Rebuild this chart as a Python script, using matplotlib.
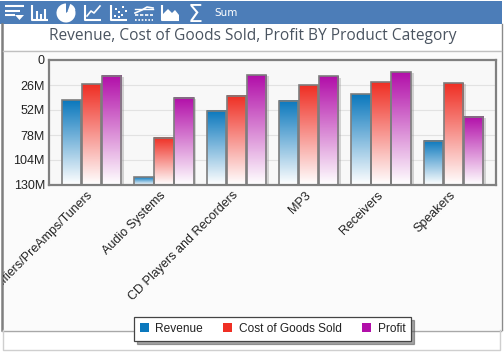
import numpy as np
import matplotlib
matplotlib.use('Agg')
import matplotlib.pyplot as plt
from matplotlib.colors import LinearSegmentedColormap
from matplotlib.patches import Rectangle, Wedge, Polygon, Patch
from matplotlib.patheffects import withSimplePatchShadow
from matplotlib.ticker import FuncFormatter
from matplotlib.transforms import Affine2D

plt.rcParams['font.family'] = ['Liberation Sans', 'DejaVu Sans']

# values
categories = ['Amplifiers/PreAmps/Tuners', 'Audio Systems', 'CD Players and Recorders',
              'MP3', 'Receivers', 'Speakers']
revenue = [41.6, 121.7, 53, 42.6, 35.4, 84]
cost = [25, 81, 37.4, 26, 23, 24]
profit = [16.6, 39.5, 15.6, 17, 12.5, 59]
yticks = [0, 26, 52, 78, 104, 130]

W, H = 504, 352
fig = plt.figure(figsize=(W / 100, H / 100), dpi=100, facecolor='white')

# overlay in pixel coordinates for the widget frame and toolbar
bg = fig.add_axes([0, 0, 1, 1], zorder=0)
bg.set_xlim(0, W)
bg.set_ylim(H, 0)
bg.axis('off')
bg.add_patch(Rectangle((2, 50), 499, 280, fc='#fbfbfb', ec='none'))
bg.add_patch(Rectangle((0, 1), 502, 23, fc='#4c7db8', ec='none'))
bg.plot([2, 2], [24, 330], color='#7f7f7f', lw=1.8)
bg.plot([501.5, 501.5], [24, 330], color='#8a8a8a', lw=1)
bg.plot([3, 501], [50.5, 50.5], color='#c0c0c0', lw=1)
bg.plot([2, 501], [330.5, 330.5], color='#a8a8a8', lw=1)
bg.plot([3, 3, 500, 500], [330, 349.5, 349.5, 330], color='#cfcfcf', lw=1)
bg.text(252.5, 35.5, 'Revenue, Cost of Goods Sold, Profit BY Product Category', ha='center', va='center',
        fontsize=11.2, color='#4a5460', family='Open Sans')

# toolbar icons
ic = dict(color='white', lw=1.5, solid_capstyle='butt')
for y, x1 in [(6, 24), (10.5, 20), (15, 15)]:
    bg.plot([5, x1], [y, y], **ic)
bg.add_patch(Polygon([[15, 15], [24, 15], [19.5, 20]], fc='white', ec='none'))
bg.plot([32, 32, 48], [5, 20, 20], **ic)
for x, y in [(36.5, 11), (41, 14), (45, 9)]:
    bg.plot([x, x], [y, 20], **ic)
bg.add_patch(Wedge((66, 13), 9.5, -40, 270, fc='white', ec='none'))
bg.add_patch(Wedge((67.5, 11.5), 8, -70, -10, fc='white', ec='none'))
bg.plot([85, 85, 101], [5, 20, 20], **ic)
bg.plot([87, 91, 94, 100], [16, 11, 13, 6], color='white', lw=1.2)
bg.plot([111, 111, 127], [5, 20, 20], **ic)
for x, y in [(115, 16), (119, 12), (123, 7), (116, 9), (122, 15), (126, 11), (119, 17)]:
    bg.add_patch(Rectangle((x - 1.2, y - 1.2), 2.4, 2.4, fc='white', ec='none'))
bg.plot([135, 153], [20, 20], color='white', lw=1.2, ls=(0, (1, 1)))
bg.plot([135, 153], [15, 15], color='white', lw=1.2, ls=(0, (2, 1)))
bg.plot([135, 142, 147, 153], [13, 10, 7, 8], color='white', lw=1.2)
bg.plot([135, 153], [9, 9], color='white', lw=1)
bg.plot([162, 162, 179], [5, 20, 20], **ic)
bg.add_patch(Polygon([[163, 20], [163, 14], [168, 9], [172, 13], [175, 10], [179, 15], [179, 20]],
                     fc='white', ec='none'))
bg.text(195.5, 13, '\u03a3', color='white', fontsize=17, ha='center', va='center_baseline', family='DejaVu Sans')
bg.text(214, 12.5, 'Sum', color='white', fontsize=7.5, ha='left', va='center', family='DejaVu Sans')

# plot area
ax = fig.add_axes([49 / W, 1 - 185 / H, (496 - 49) / W, (185 - 60) / H], zorder=1)
ax.set_facecolor('#f8f8f8')
ax.set_xlim(-0.587, 5.587)
ax.set_ylim(130, 0)
ax.set_yticks(yticks)
ax.yaxis.set_major_formatter(FuncFormatter(lambda v, _: '0' if v == 0 else f'{int(v)}M'))
ax.yaxis.grid(True, color='#e2e2e2', lw=0.8)
ax.set_axisbelow(True)
for s in ax.spines.values():
    s.set_color('#808080')
    s.set_linewidth(1.6)
ax.tick_params(axis='y', length=0, labelsize=9, labelcolor='#222222', pad=3)
ax.tick_params(axis='x', length=0, labelsize=9, labelcolor='#222222', pad=3)
ax.set_xticks(range(len(categories)))
ax.set_xticklabels(categories, rotation=45, ha='right', rotation_mode='anchor')
for lab in ax.get_xticklabels():
    # nudge left, long first label runs into the widget's left edge
    lab.set_transform(lab.get_transform() + Affine2D().translate(-4, 0))
    lab.set_clip_on(True)
    lab.set_clip_path(Rectangle((3, 0), 498, H, transform=None))

series = [('Revenue', revenue, '#0b78bd'), ('Cost of Goods Sold', cost, '#ef2f24'), ('Profit', profit, '#b20fa9')]
width = 19.5 / 72.4
for i, (name, vals, col) in enumerate(series):
    xs = np.arange(len(vals)) + (i - 1) * 20 / 72.4
    heights = [v - 130 for v in vals]
    bars = ax.bar(xs, heights, width=width, bottom=130, fc='none', ec='#7d7d7d', lw=1.2, zorder=3)
    cmap = LinearSegmentedColormap.from_list(name, [col, 'white'])
    for b, v in zip(bars, vals):
        x0 = b.get_x()
        shadow = Rectangle((x0, v), width, 130 - v, fc='white', ec='none', zorder=2,
                           path_effects=[withSimplePatchShadow(offset=(2, -1), shadow_rgbFace='#999999', alpha=0.4)])
        ax.add_patch(shadow)
        im = ax.imshow(np.linspace(0, 1, 100).reshape(-1, 1), cmap=cmap, aspect='auto',
                       extent=(x0, x0 + width, 130, v), origin='upper', zorder=2.5)
ax.set_xlim(-0.587, 5.587)
ax.set_ylim(130, 0)

leg = fig.legend(handles=[Patch(fc=c, ec='none', label=n) for n, _, c in series], ncol=3,
                 loc='center', bbox_to_anchor=(272.7 / W, 1 - 329 / H), fontsize=8.6,
                 frameon=True, fancybox=False, shadow=True, framealpha=1, edgecolor='#444444',
                 handlelength=0.75, handleheight=0.75, handletextpad=0.55, columnspacing=1.7,
                 borderpad=0.5, borderaxespad=0, labelcolor='#222222')
leg.get_frame().set_linewidth(0.9)
leg.set_zorder(5)

fig.savefig('out.png', dpi=100)
